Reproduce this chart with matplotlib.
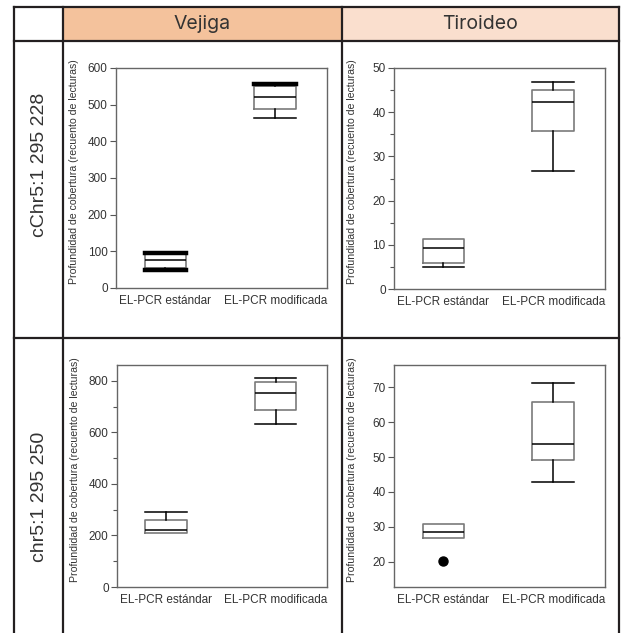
import matplotlib
matplotlib.use("Agg")
import matplotlib.pyplot as plt
from matplotlib.patches import Rectangle

plt.rcParams['font.family'] = ['Liberation Sans', 'DejaVu Sans']

W, H = 621, 633

tissues = ["Vejiga", "Tiroideo"]
loci = ["cChr5:1 295 228", "chr5:1 295 250"]
cats = ["EL-PCR estándar", "EL-PCR modificada"]
ylabel = "Profundidad de cobertura (recuento de lecturas)"

# box stats: [whislo, q1, med, q3, whishi]
vej_228 = [[50, 54, 76, 92, 96], [465, 488, 522, 550, 555]]
tir_228 = [[4.9, 5.8, 9.2, 11.3, 11.3], [26.6, 35.8, 42.4, 45.1, 46.9]]
vej_250 = [[209, 209, 222, 261, 293], [632, 686, 755, 796, 813]]
tir_250 = [[26.8, 26.8, 28.6, 30.7, 30.7], [42.75, 49.1, 53.65, 65.7, 71.1]]
tir_250_fliers = [[20.3], []]

ylims = [[(0, 600), (0, 50)], [(0, 862), (12.7, 76.4)]]
yticks = [[range(0, 601, 100), range(0, 51, 10)], [range(0, 801, 200), range(20, 71, 10)]]
yminor = [[[], range(5, 50, 10)], [range(100, 801, 200), []]]

fig = plt.figure(figsize=(W / 100, H / 100), dpi=100)

# table background
bg = fig.add_axes([0, 0, 1, 1])
bg.set_xlim(0, W)
bg.set_ylim(H, 0)
bg.axis("off")
bg.add_patch(Rectangle((63, 7), 279, 34, facecolor="#f4c29c", edgecolor="none"))
bg.add_patch(Rectangle((342, 7), 277, 34, facecolor="#fadfce", edgecolor="none"))
lc = "#231f20"
for x in [14, 63, 342, 619]:
    bg.plot([x, x], [7, H], color=lc, lw=1.6)
for y in [7, 41, 338]:
    bg.plot([14, 619], [y, y], color=lc, lw=1.6)
bg.text(202, 24, tissues[0], ha="center", va="center", fontsize=14, color="#333333", family=["Inter", "DejaVu Sans"])
bg.text(480, 24, tissues[1], ha="center", va="center", fontsize=14, color="#333333", family=["Inter", "DejaVu Sans"])
bg.text(39, 165, loci[0], ha="center", va="center", rotation=90, fontsize=14, color="#333333")
bg.text(39, 497, loci[1], ha="center", va="center", rotation=90, fontsize=14, color="#333333")

panels = [[(vej_228, [[], []]), (tir_228, [[], []])],
          [(vej_250, [[], []]), (tir_250, tir_250_fliers)]]
boxes_px = [[(116, 327, 68, 288), (394, 605, 68, 289)],
            [(117, 327, 365, 587), (394, 605, 365, 587)]]

for r in range(2):
    for c in range(2):
        l, rr, t, b = boxes_px[r][c]
        ax = fig.add_axes([l / W, 1 - b / H, (rr - l) / W, (b - t) / H])
        data, fl = panels[r][c]
        stats = []
        for i, s in enumerate(data):
            stats.append(dict(whislo=s[0], q1=s[1], med=s[2], q3=s[3], whishi=s[4], fliers=fl[i]))
        res = ax.bxp(stats, positions=[1, 2], widths=0.38, capwidths=0.38,
                     boxprops=dict(color="#7a7a7a", lw=1.2),
                     medianprops=dict(color="black", lw=1.1),
                     whiskerprops=dict(color="black", lw=1.1),
                     capprops=dict(color="black", lw=1.1),
                     flierprops=dict(marker="o", markerfacecolor="black", markeredgecolor="black", markersize=6.5))
        # hide caps that sit on the box edge
        for i, s in enumerate(data):
            if s[0] == s[1]:
                res['caps'][2 * i].set_visible(False)
            if s[4] == s[3]:
                res['caps'][2 * i + 1].set_visible(False)
        if r == 0 and c == 0:
            # thick caps in the bladder panel
            for k in [0, 1, 3]:
                res['caps'][k].set_linewidth(3.2)
        ax.set_xlim(0.55, 2.47)
        ax.set_ylim(*ylims[r][c])
        ax.set_yticks(list(yticks[r][c]))
        ax.set_yticks(list(yminor[r][c]), minor=True)
        ax.set_xticks([1, 2])
        ax.set_xticklabels(cats)
        ax.tick_params(axis="x", length=0, labelsize=8.5, labelcolor="#333333", pad=5)
        ax.tick_params(axis="y", length=4, width=0.8, color="#555555", labelsize=8.5, labelcolor="#333333", pad=2)
        ax.tick_params(axis="y", which="minor", length=3, width=0.8, color="#555555")
        for sp in ax.spines.values():
            sp.set_color("#666666")
            sp.set_linewidth(1.0)
        ax.set_ylabel(ylabel, fontsize=7.6, color="#333333")
        ax.yaxis.set_label_coords(-0.175, 0.53)

fig.savefig("out.png", dpi=100)
